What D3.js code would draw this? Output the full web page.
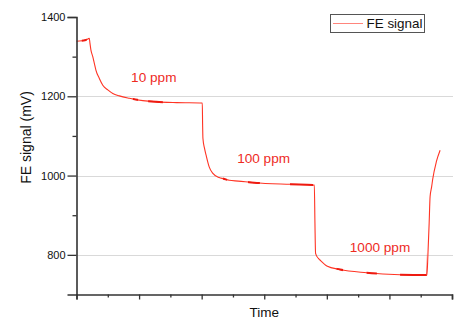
<!DOCTYPE html>
<html>
<head>
<meta charset="utf-8">
<script src="https://cdn.jsdelivr.net/npm/d3@7"></script>
<style>
  html, body { margin: 0; padding: 0; background: #fff; }
  svg { display: block; font-family: "Liberation Sans", Arial, sans-serif; }
</style>
</head>
<body>
<svg id="chart" width="461" height="320"></svg>
<script>
// Time (arbitrary units, axis has 12 minor divisions) and FE signal (mV)
const timeVals = [0.00, 0.30, 0.41, 0.43, 0.46, 0.52, 0.57, 0.62, 0.73, 0.84, 1.00, 1.16, 1.37, 1.69, 2.12, 2.54, 3.20, 4.02,
                  4.03, 4.04, 4.09, 4.14, 4.24, 4.35, 4.56, 4.70, 4.88, 5.17, 5.68, 6.83, 7.60,
                  7.62, 7.64, 7.73, 7.78, 8.00, 8.42, 9.27, 10.34, 11.20,
                  11.23, 11.27, 11.30, 11.35, 11.38, 11.50, 11.62];
const signalVals = [1339, 1342, 1346, 1334, 1317, 1300, 1283, 1266, 1245, 1228, 1216, 1207, 1201, 1195, 1189, 1186, 1184, 1183,
                    1130, 1094, 1069, 1052, 1022, 1006, 995, 992, 988, 986, 982, 978, 976,
                    880, 804, 791, 787, 772, 763, 755, 750, 749,
                    800, 880, 947, 972, 989, 1035, 1064];
// short stretches where the recorded points overlap (drawn heavier)
const denseRanges = [[0.17, 0.33], [1.80, 1.97], [2.29, 2.76],
                     [4.68, 4.81], [5.48, 5.86], [6.82, 7.56],
                     [8.31, 8.52], [9.27, 9.60], [10.34, 11.19]];
const yTicks = [1400, 1200, 1000, 800];
const yMinorTicks = [1300, 1100, 900];
const gridVals = [1200, 1000, 800];
const annotations = [
  { label: "10 ppm", t: 2.47, v: 1236 },
  { label: "100 ppm", t: 5.98, v: 1031 },
  { label: "1000 ppm", t: 9.70, v: 808 }
];
const seriesName = "FE signal";
const xTitle = "Time";
const yTitle = "FE signal (mV)";

const svg = d3.select("#chart");
const mLeft = 76.5, mRight = 452, mTop = 17, mBottom = 294.5;

const x = d3.scaleLinear().domain([0, 12]).range([mLeft, mRight]);
const y = d3.scaleLinear().domain([700, 1400]).range([mBottom, mTop]);

const lineColor = "#ff3424";
const denseColor = "#ee1a10";
const textRed = "#ee2b1f";

// gridlines
svg.append("g").selectAll("line").data(gridVals).join("line")
  .attr("x1", mLeft).attr("x2", mRight + 1)
  .attr("y1", d => Math.round(y(d)) + 0.5).attr("y2", d => Math.round(y(d)) + 0.5)
  .attr("stroke", "#d9d9d9").attr("stroke-width", 1);

// data line
const pts = timeVals.map((t, i) => [t, signalVals[i]]);
const lineGen = d3.line().x(d => x(d[0])).y(d => y(d[1])).curve(d3.curveMonotoneX);
svg.append("path").datum(pts)
  .attr("fill", "none").attr("stroke", lineColor).attr("stroke-width", 1.1)
  .attr("d", lineGen);

// heavier stretches (same curve, clipped)
const defs = svg.append("defs");
denseRanges.forEach((r, i) => {
  defs.append("clipPath").attr("id", "dense" + i)
    .append("rect").attr("x", x(r[0])).attr("y", 0)
    .attr("width", x(r[1]) - x(r[0])).attr("height", 320);
  svg.append("path").datum(pts)
    .attr("clip-path", `url(#dense${i})`)
    .attr("fill", "none").attr("stroke", denseColor).attr("stroke-width", 2)
    .attr("d", lineGen);
});

// annotations
svg.append("g").selectAll("text").data(annotations).join("text")
  .attr("x", d => x(d.t)).attr("y", d => y(d.v))
  .attr("text-anchor", "middle")
  .attr("fill", textRed).attr("font-size", "13.6px")
  .text(d => d.label);

// y axis
const yAxis = d3.axisLeft(y).tickValues(yTicks).tickSize(9).tickPadding(2).tickFormat(d3.format("d"));
const gy = svg.append("g").attr("transform", `translate(${mLeft},0)`).call(yAxis);
gy.select(".domain").attr("stroke", "#333").attr("stroke-width", 1.6);
gy.selectAll(".tick line").attr("stroke", "#333").attr("stroke-width", 1.3);
gy.selectAll(".tick text").attr("font-size", "11px").attr("fill", "#111")
  .attr("font-family", "Liberation Sans, Arial, sans-serif");
const gyMinor = svg.append("g").attr("transform", `translate(${mLeft},0)`)
  .call(d3.axisLeft(y).tickValues(yMinorTicks).tickSize(4).tickFormat(""));
gyMinor.select(".domain").remove();
gyMinor.selectAll(".tick line").attr("stroke", "#333").attr("stroke-width", 1.3);

// x axis
const gx = svg.append("g").attr("transform", `translate(0,${mBottom})`)
  .call(d3.axisBottom(x).tickValues(d3.range(0, 13, 2)).tickSize(5).tickFormat(""));
gx.select(".domain").attr("stroke", "#333").attr("stroke-width", 1.6);
gx.selectAll(".tick line").attr("stroke", "#333").attr("stroke-width", 1.3);
const gxMinor = svg.append("g").attr("transform", `translate(0,${mBottom})`)
  .call(d3.axisBottom(x).tickValues(d3.range(1, 12, 2)).tickSize(3).tickFormat(""));
gxMinor.select(".domain").remove();
gxMinor.selectAll(".tick line").attr("stroke", "#333").attr("stroke-width", 1.3);

// axis titles
svg.append("text").attr("x", (mLeft + mRight) / 2).attr("y", 316.5)
  .attr("text-anchor", "middle").attr("font-size", "13.5px").attr("fill", "#111")
  .text(xTitle);
svg.append("text")
  .attr("transform", `translate(31,137.5) rotate(-90)`)
  .attr("text-anchor", "middle").attr("font-size", "14px").attr("fill", "#111")
  .text(yTitle);

// legend
const lg = svg.append("g");
lg.append("rect").attr("x", 330.5).attr("y", 14.5).attr("width", 94).attr("height", 18)
  .attr("fill", "#fff").attr("stroke", "#555").attr("stroke-width", 1);
lg.append("line").attr("x1", 333).attr("x2", 363).attr("y1", 23.5).attr("y2", 23.5)
  .attr("stroke", lineColor).attr("stroke-opacity", 0.6).attr("stroke-width", 1);
lg.append("text").attr("x", 366.5).attr("y", 28.3).attr("font-size", "13px").attr("fill", "#111")
  .attr("textLength", 56).attr("lengthAdjust", "spacingAndGlyphs")
  .text(seriesName);
</script>
</body>
</html>
